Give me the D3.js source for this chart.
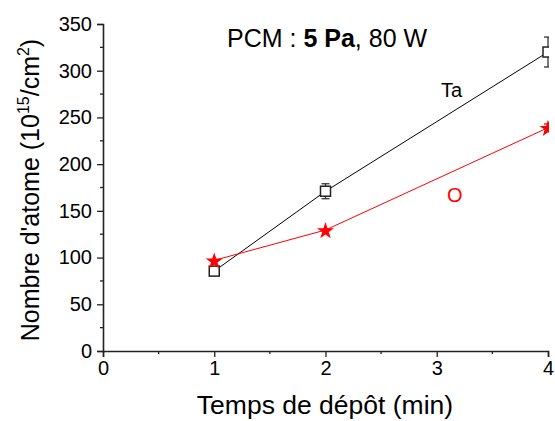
<!DOCTYPE html>
<html>
<head>
<meta charset="utf-8">
<script src="https://cdn.jsdelivr.net/npm/d3@7"></script>
<style>
  html, body { margin: 0; padding: 0; background: #fff; }
  svg { display: block; font-family: "Liberation Sans", Arial, sans-serif; }
</style>
</head>
<body>
<svg id="chart" width="555" height="421"></svg>
<script>
// ---- data ----
const times = [1, 2, 4];
const taValues = [85.5, 171, 320];
const taErrors = [0, 8, 16];
const oValues = [97, 129.5, 239];
const oErrors = [0, 0, 4];
const xTicks = [0, 1, 2, 3, 4];
const yTicks = [0, 50, 100, 150, 200, 250, 300, 350];
const xMinorTicks = [0.5, 1.5, 2.5, 3.5];
const yMinorTicks = [25, 75, 125, 175, 225, 275, 325];

const svg = d3.select("#chart");
const x = d3.scaleLinear().domain([0, 4]).range([103, 548]);
const y = d3.scaleLinear().domain([0, 350]).range([351, 24]);

// clip region (plot clipped at right edge)
svg.append("defs").append("clipPath").attr("id", "clip")
  .append("rect").attr("x", 0).attr("y", 0).attr("width", 549).attr("height", 421);

// axes
const xAxis = d3.axisBottom(x).tickValues(xTicks).tickSize(6).tickPadding(4).tickFormat(d3.format("d"));
const yAxis = d3.axisLeft(y).tickValues(yTicks).tickSize(6).tickPadding(5).tickFormat(d3.format("d"));

const gx = svg.append("g").attr("transform", `translate(0,${y(0)})`).call(xAxis);
const gy = svg.append("g").attr("transform", `translate(${x(0)},0)`).call(yAxis);

[gx, gy].forEach(g => {
  g.select(".domain").attr("stroke", "#222").attr("stroke-width", 1.6);
  g.selectAll(".tick line").attr("stroke", "#222").attr("stroke-width", 1.3);
  g.selectAll(".tick text").attr("fill", "#000").style("font-size", "20px")
    .style("font-family", "'Liberation Sans', Arial, sans-serif");
});

// minor ticks
svg.append("g").selectAll("line").data(xMinorTicks).join("line")
  .attr("x1", d => x(d)).attr("x2", d => x(d))
  .attr("y1", y(0)).attr("y2", y(0) + 3)
  .attr("stroke", "#222").attr("stroke-width", 1.3);
svg.append("g").selectAll("line").data(yMinorTicks).join("line")
  .attr("x1", x(0) - 3).attr("x2", x(0))
  .attr("y1", d => y(d)).attr("y2", d => y(d))
  .attr("stroke", "#222").attr("stroke-width", 1.3);

const plot = svg.append("g").attr("clip-path", "url(#clip)");
const line = d3.line().x(d => x(d[0])).y(d => y(d[1]));

const taData = times.map((t, i) => [t, taValues[i], taErrors[i]]);
const oData = times.map((t, i) => [t, oValues[i], oErrors[i]]);

// lines
plot.append("path").datum(taData).attr("d", line)
  .attr("fill", "none").attr("stroke", "#000").attr("stroke-width", 1);
plot.append("path").datum(oData).attr("d", line)
  .attr("fill", "none").attr("stroke", "#ff0000").attr("stroke-width", 1);

// error bars
function errorBars(data, color) {
  const g = plot.append("g").attr("stroke", color).attr("stroke-width", 1.3);
  data.filter(d => d[2] > 0).forEach(d => {
    const cx = x(d[0]);
    g.append("line").attr("x1", cx).attr("x2", cx).attr("y1", y(d[1] + d[2])).attr("y2", y(d[1] - d[2]));
    g.append("line").attr("x1", cx - 4).attr("x2", cx + 4).attr("y1", y(d[1] + d[2])).attr("y2", y(d[1] + d[2]));
    g.append("line").attr("x1", cx - 4).attr("x2", cx + 4).attr("y1", y(d[1] - d[2])).attr("y2", y(d[1] - d[2]));
  });
}
errorBars(taData, "#333");
errorBars(oData, "#ff0000");

// markers
plot.append("g").selectAll("rect").data(taData).join("rect")
  .attr("x", d => x(d[0]) - 5).attr("y", d => y(d[1]) - 5)
  .attr("width", 10).attr("height", 10)
  .attr("fill", "#fff").attr("stroke", "#222").attr("stroke-width", 1.5);

const star = d3.symbol().type(d3.symbolStar).size(90);
plot.append("g").selectAll("path").data(oData).join("path")
  .attr("d", star)
  .attr("transform", d => `translate(${x(d[0])},${y(d[1]) + 1})`)
  .attr("fill", "#ff0000");

// annotations
svg.append("text").attr("x", 441).attr("y", 96.5)
  .style("font-size", "20px").attr("fill", "#000").text("Ta");
svg.append("text").attr("x", 447).attr("y", 202)
  .style("font-size", "20px").attr("fill", "#ff0000").text("O");

// title
const title = svg.append("text").attr("x", 227).attr("y", 47).style("font-size", "25px").attr("fill", "#000");
title.append("tspan").text("PCM : ");
title.append("tspan").style("font-weight", "bold").text("5 Pa");
title.append("tspan").text(", 80 W");

// axis titles
svg.append("text").attr("x", 325).attr("y", 414).attr("text-anchor", "middle")
  .style("font-size", "26.5px").attr("fill", "#000").text("Temps de dépôt (min)");

const yl = svg.append("text")
  .attr("transform", "translate(39,190) rotate(-90)")
  .attr("text-anchor", "middle").style("font-size", "25px").attr("fill", "#000");
yl.append("tspan").text("Nombre d'atome (10");
yl.append("tspan").attr("dy", -10).style("font-size", "16px").text("15");
yl.append("tspan").attr("dy", 10).text("/cm");
yl.append("tspan").attr("dy", -10).style("font-size", "16px").text("2");
yl.append("tspan").attr("dy", 10).text(")");
</script>
</body>
</html>
